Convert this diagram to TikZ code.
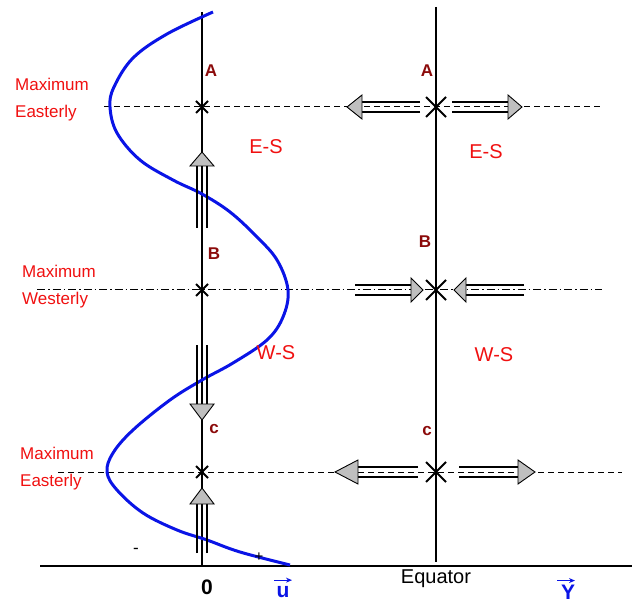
\documentclass[tikz,border=0pt]{standalone}
\usepackage{fontspec}
\setmainfont{Liberation Sans}
\usepackage{tikz}
\usepackage{xcolor}
\usetikzlibrary{arrows.meta,calc,positioning}
\definecolor{WindRed}{HTML}{F01010}
\definecolor{PointRed}{HTML}{8B0A0A}
\definecolor{ProfBlue}{HTML}{0A14E6}
\tikzset{
  axisline/.style={line width=1.8pt, draw=black},
  easterly/.style={line width=1pt, dash pattern=on 6pt off 4pt},
  westerly/.style={line width=1pt, dash pattern=on 8pt off 3pt on 1.5pt off 3pt},
  crossmark/.style={line width=1.8pt, draw=black},
  shaft/.style={line width=1.7pt, draw=black},
  headfill/.style={line width=0.9pt, draw=black, fill=gray!50, line join=miter},
  profile/.style={line width=3pt, draw=ProfBlue},
  regionlbl/.style={text=WindRed, font=\fontsize{17}{27}\selectfont, align=left, anchor=west, inner sep=0pt},
  belt/.style={text=WindRed, font=\fontsize{20}{24}\selectfont, inner sep=0pt},
  ptlbl/.style={text=PointRed, font=\bfseries\fontsize{17}{20}\selectfont, inner sep=0pt},
  unitarrow/.style={-{Stealth[length=6pt,width=5pt]}, line width=1.2pt, draw=ProfBlue}
}
% tail, base of head, tip
\newcommand{\dblarrow}[3]{%
  \draw[shaft] ($(#1)!5pt!90:(#2)$) -- ($(#2)!5pt!-90:(#1)$);
  \draw[shaft] ($(#1)!5pt!-90:(#2)$) -- ($(#2)!5pt!90:(#1)$);
  \draw[headfill] ($(#2)!12pt!90:(#3)$) -- (#3) -- ($(#2)!12pt!-90:(#3)$) -- cycle;
}
\newcommand{\xmark}[2]{%
  \draw[crossmark] ($(#1)+(-#2,-#2)$) -- ($(#1)+(#2,#2)$);
  \draw[crossmark] ($(#1)+(-#2,#2)$) -- ($(#1)+(#2,-#2)$);
}

\begin{document}
\begin{tikzpicture}[x=1pt, y=-1pt]
  \useasboundingbox (0,0) rectangle (635,604);
  % axes
  \coordinate (lt) at (202,12);
  \coordinate (lb) at (202,566);
  \coordinate (rt) at (436,7);
  \coordinate (rb) at (436,562);
  \coordinate (h0) at (40,566);
  \coordinate (h1) at (632,566);
  \draw[axisline] (lt) -- (lb);
  \draw[axisline] (rt) -- (rb);
  \draw[axisline] (h0) -- (h1);
  % latitude lines
  \draw[easterly] (104,107) -- (600,107);
  \draw[westerly] (37,290) -- (602,290);
  \draw[easterly] (58,472) -- (622,472);
  % crosses
  \coordinate (lA) at (202,107);
  \coordinate (lB) at (202,290);
  \coordinate (lC) at (202,472);
  \coordinate (rA) at (436,107);
  \coordinate (rB) at (436,290);
  \coordinate (rC) at (436,472);
  \xmark{lA}{6} \xmark{lB}{6} \xmark{lC}{6}
  \xmark{rA}{10} \xmark{rB}{10} \xmark{rC}{10}
  % wind profile
  \draw[profile] plot[smooth, tension=0.6] coordinates {
    (213,12) (167,34) (133,58) (114,87) (110,107) (117,133) (140,160)
    (173,180) (202,194) (230,212) (256,236) (277,260) (288,290)
    (283,317) (267,340) (233,363) (202,380) (170,400) (133,430)
    (113,453) (107,472) (117,490) (143,513) (177,530) (207,540)
    (240,552) (290,565)};
  % shear arrows on the axis
  \dblarrow{202,228}{202,166}{202,152}
  \dblarrow{202,345}{202,404}{202,420}
  \dblarrow{202,553}{202,504}{202,488}
  % meridional arrows
  \dblarrow{420,107}{362,107}{347,107}
  \dblarrow{452,107}{508,107}{522,107}
  \dblarrow{355,290}{411,290}{423,290}
  \dblarrow{524,290}{466,290}{454,290}
  \dblarrow{418,472}{358,472}{335,472}
  \dblarrow{459,472}{518,472}{535,472}
  % texts
  \node[regionlbl] (me1) at (15,100) {Maximum\\Easterly};
  \node[regionlbl] (mw) at (22,287) {Maximum\\Westerly};
  \node[regionlbl] (me2) at (20,469) {Maximum\\Easterly};
  \node[belt] (es1) at (266,147) {E-S};
  \node[belt] (es2) at (486,152) {E-S};
  \node[belt] (ws1) at (276,353) {W-S};
  \node[belt] (ws2) at (494,355) {W-S};
  \node[ptlbl] (la) at (211,71) {A};
  \node[ptlbl] (lbp) at (214,254) {B};
  \node[ptlbl] (lc) at (214,429) {c};
  \node[ptlbl] (ra) at (427,71) {A};
  \node[ptlbl] (rbp) at (425,242) {B};
  \node[ptlbl] (rc) at (427,431) {c};
  \node[font=\fontsize{17}{18}\selectfont, inner sep=0pt] (minus) at (136,551) {-};
  \node[font=\fontsize{15}{16}\selectfont, inner sep=0pt] (plus) at (259,557) {+};
  \node[font=\bfseries\fontsize{21}{24}\selectfont, inner sep=0pt] (zero) at (207,587) {0};
  \node[font=\bfseries\fontsize{21}{24}\selectfont, text=ProfBlue, inner sep=0pt] (u) at (283,592) {u};
  \node[font=\fontsize{20}{24}\selectfont, inner sep=0pt] (eq) at (436,579) {Equator};
  \node[font=\bfseries\fontsize{21}{24}\selectfont, text=ProfBlue, inner sep=0pt] (yy) at (568,592) {Y};
  \draw[unitarrow] ($(u.north)+(-9,-6)$) -- ($(u.north)+(9,-6)$);
  \draw[unitarrow] ($(yy.north)+(-11,-4)$) -- ($(yy.north)+(7,-4)$);
\end{tikzpicture}
\end{document}
